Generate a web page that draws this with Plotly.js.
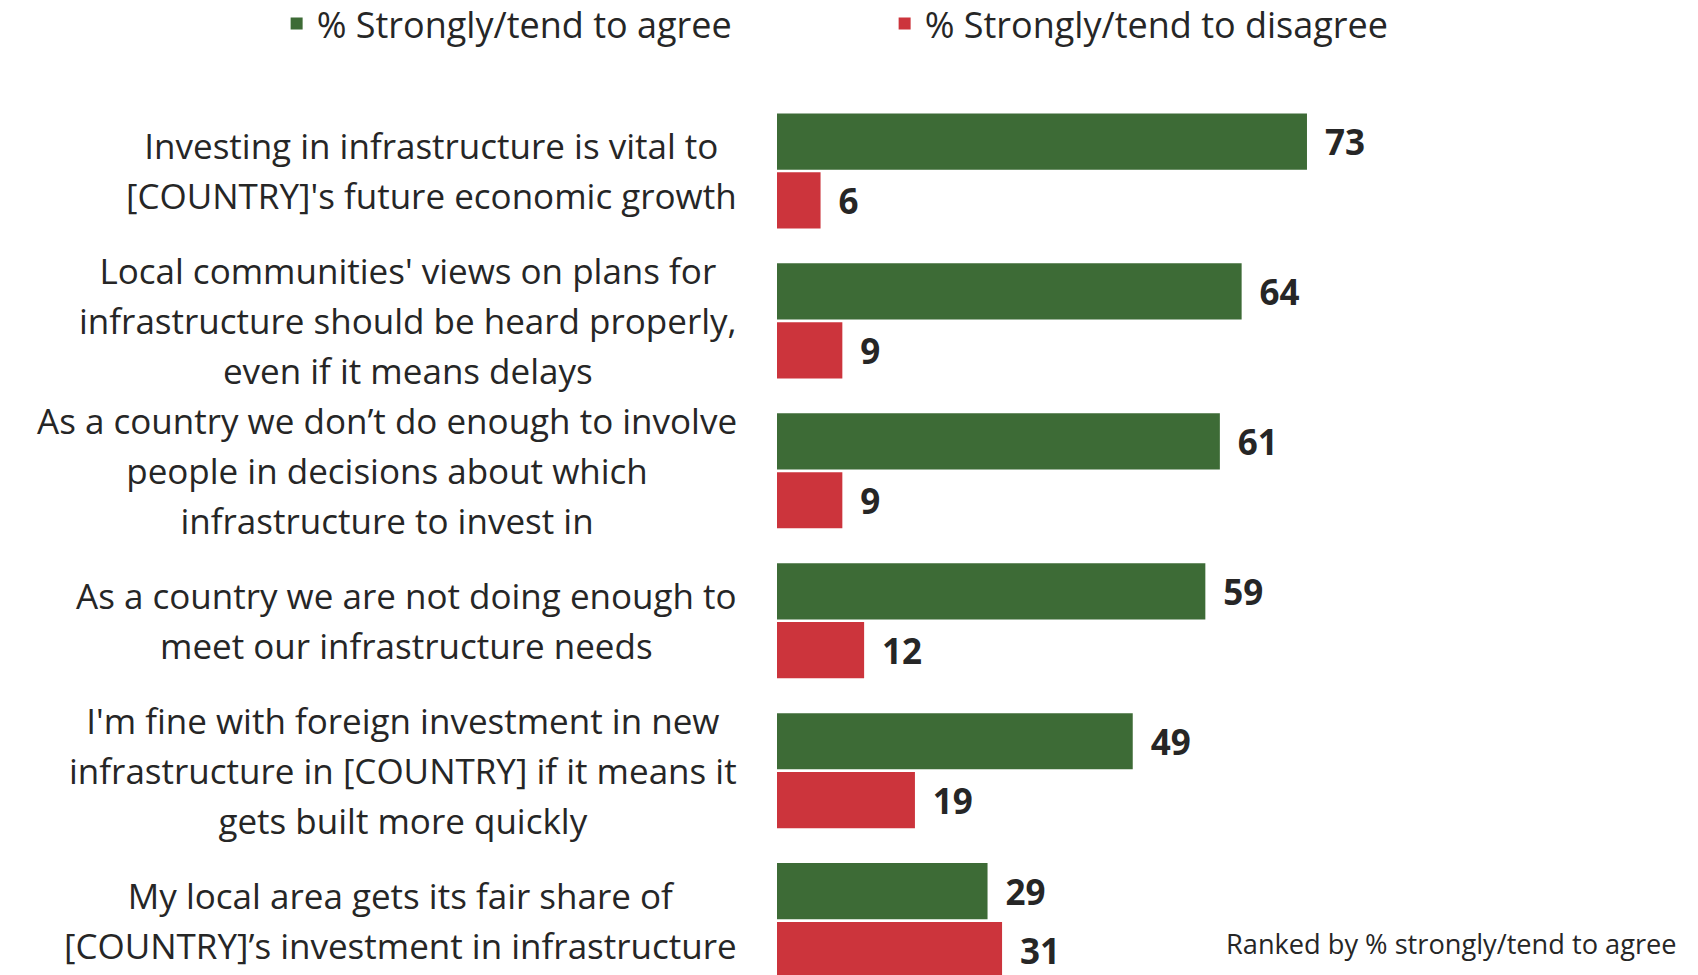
<!DOCTYPE html>
<html>
<head>
<meta charset="utf-8">
<script src="https://cdn.plot.ly/plotly-3.0.1.min.js"></script>
<style>
html,body{margin:0;padding:0;background:#fff;}
#chart{width:1698px;height:975px;}
</style>
</head>
<body>
<div id="chart"></div>
<script>
var categories = [
  "Investing in infrastructure is vital to<br>[COUNTRY]'s future economic growth",
  "Local communities' views on plans for<br>infrastructure should be heard properly,<br>even if it means delays",
  "As a country we don\u2019t do enough to involve<br>people in decisions about which<br>infrastructure to invest in",
  "As a country we are not doing enough to<br>meet our infrastructure needs",
  "I'm fine with foreign investment in new<br>infrastructure in [COUNTRY] if it means it<br>gets built more quickly",
  "My local area gets its fair share of<br>[COUNTRY]\u2019s investment in infrastructure"
];
var agree = [73, 64, 61, 59, 49, 29];
var disagree = [6, 9, 9, 12, 19, 31];
var seriesNames = ["% Strongly/tend to agree", "% Strongly/tend to disagree"];
var note = "Ranked by % strongly/tend to agree";

var FONT = "'Open Sans', 'Noto Sans', sans-serif";
var TXT = "#262626";
var GREEN = "#3d6b36";
var RED = "#cc343c";

var ML = 777.3;      // left margin (px)
var PW = 725.9;      // plot width (px) for the 0-100 range

var valueFont = {family: FONT, size: 35, color: TXT, weight: 700};

function barTrace(vals, name, color) {
  return {
    type: "bar",
    orientation: "h",
    y: categories,
    x: vals,
    name: name,
    marker: {color: color},
    text: vals.map(String),
    texttemplate: "\u00a0\u2009%{text}",
    textposition: "outside",
    textfont: valueFont,
    constraintext: "none",
    cliponaxis: false,
    hoverinfo: "skip"
  };
}

var data = [
  barTrace(agree, seriesNames[0], GREEN),
  barTrace(disagree, seriesNames[1], RED)
];

// wrap each line so the line spacing follows the larger outer font size
function spaced(label, size) {
  return label.split("<br>").map(function (l) {
    return '<span style="font-size:' + size + 'px">' + l + "</span>";
  }).join("<br>");
}

var annotations = categories.map(function (c) {
  return {
    xref: "paper", yref: "y",
    x: (739 - ML) / PW, y: c,
    xanchor: "right", yanchor: "middle",
    align: "center",
    text: spaced(c, 35),
    showarrow: false,
    font: {family: FONT, size: 38.3, color: TXT}
  };
});
annotations.push({
  xref: "paper", yref: "paper",
  x: (1679.5 - ML) / PW, y: 0.0364,
  xanchor: "right", yanchor: "middle",
  text: note,
  showarrow: false,
  font: {family: FONT, size: 27.2, color: TXT}
});

var layout = {
  width: 1698,
  height: 975,
  paper_bgcolor: "#ffffff",
  plot_bgcolor: "#ffffff",
  margin: {l: ML, r: 1698 - ML - PW, t: 95.5, b: 0, pad: 0, autoexpand: false},
  barmode: "group",
  bargap: 0.215,
  bargroupgap: 0.045,
  showlegend: true,
  legend: {
    orientation: "h",
    x: (277 - ML) / PW,
    xanchor: "left",
    y: 1 + (95.5 + 7) / 879.5,
    yanchor: "top",
    font: {family: FONT, size: 36, color: TXT},
    entrywidth: 563,
    entrywidthmode: "pixels",
    traceorder: "normal",
    bgcolor: "rgba(0,0,0,0)"
  },
  xaxis: {
    range: [0, 100],
    visible: false,
    fixedrange: true
  },
  yaxis: {
    type: "category",
    range: [5.363, -0.5],
    showticklabels: false,
    showgrid: false,
    zeroline: false,
    showline: false,
    ticks: "",
    fixedrange: true
  },
  annotations: annotations,
  font: {family: FONT, color: TXT}
};

Plotly.newPlot("chart", data, layout, {displayModeBar: false, staticPlot: true});
</script>
</body>
</html>
